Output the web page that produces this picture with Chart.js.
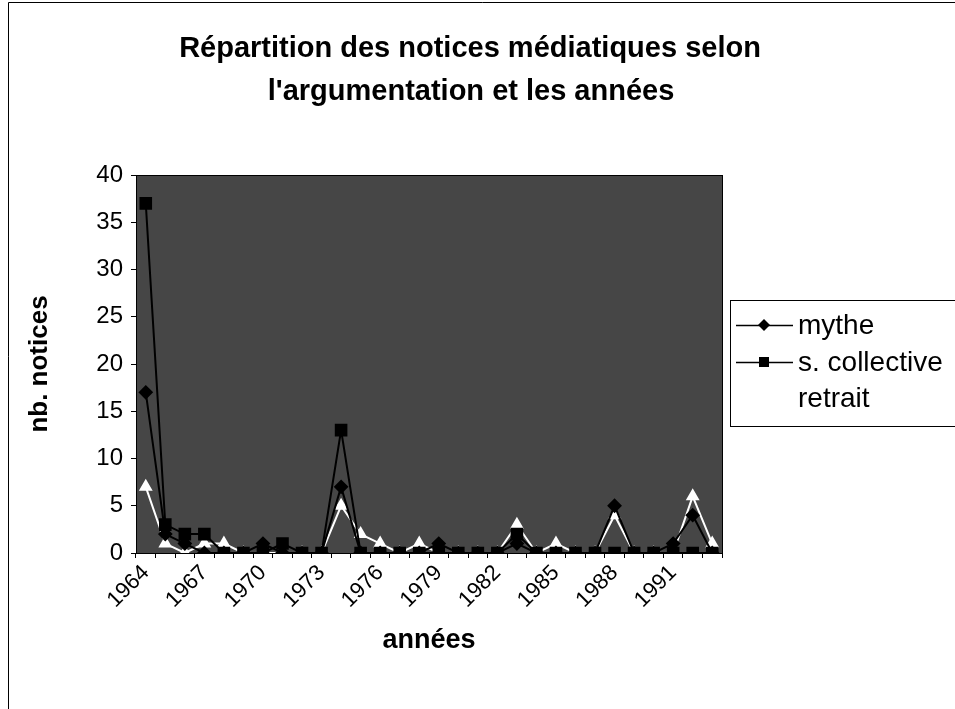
<!DOCTYPE html>
<html>
<head>
<meta charset="utf-8">
<script src="https://cdn.jsdelivr.net/npm/chart.js@4"></script>
<style>
html,body{margin:0;padding:0;background:#fff;}
#wrap{position:relative;width:955px;height:709px;}
</style>
</head>
<body>
<div id="wrap"><canvas id="c" width="955" height="709"></canvas></div>
<script>
const years = ["1964","1965","1966","1967","1968","1969","1970","1971","1972","1973","1974","1975","1976","1977","1978","1979","1980","1981","1982","1983","1984","1985","1986","1987","1988","1989","1990","1991","1992","1993"];
const mythe =        [17,2,1,0,0,0,1,0,0,0,7,0,0,0,0,1,0,0,0,1,0,0,0,0,5,0,0,1,4,0];
const sCollective =  [37,3,2,2,0,0,0,1,0,0,13,0,0,0,0,0,0,0,0,2,0,0,0,0,0,0,0,0,0,0];
const retrait =      [7,1,0,1,1,0,0,0,0,0,5,2,1,0,1,0,0,0,0,3,0,1,0,0,4,0,0,0,6,1];
const titleLines = ["Répartition des notices médiatiques selon", "l'argumentation et les années"];
const yTitle = "nb. notices";
const xTitle = "années";

const FONT = "'Liberation Sans', Arial, sans-serif";

const decor = {
  id: 'decor',
  beforeDraw(chart) {
    const {ctx, chartArea: a} = chart;
    ctx.save();
    ctx.fillStyle = '#fff';
    ctx.fillRect(0, 0, chart.width, chart.height);
    ctx.strokeStyle = '#000';
    ctx.lineWidth = 1;
    ctx.beginPath();
    ctx.moveTo(8.5, 720); ctx.lineTo(8.5, 2.5); ctx.lineTo(960, 2.5);
    ctx.stroke();
    ctx.fillStyle = '#464646';
    ctx.fillRect(a.left, a.top, a.right - a.left, a.bottom - a.top);
    ctx.restore();
  },
  afterDraw(chart) {
    const {ctx, chartArea: a} = chart;
    ctx.save();
    ctx.strokeStyle = '#000';
    ctx.lineWidth = 1;
    ctx.strokeRect(a.left + 0.5, a.top + 0.5, a.right - a.left, a.bottom - a.top);
    ctx.fillStyle = '#000';
    ctx.textAlign = 'center';
    ctx.textBaseline = 'middle';
    ctx.font = "bold 29px " + FONT;
    ctx.fillText(titleLines[0], 470, 49);
    ctx.fillText(titleLines[1], 471, 92);
    const lx = 730, ly = 300, lw = 240, lh = 126;
    ctx.fillStyle = '#fff';
    ctx.fillRect(lx, ly, lw, lh);
    ctx.strokeStyle = '#000';
    ctx.strokeRect(lx + 0.5, ly + 0.5, lw, lh);
    const rows = [325, 362, 398];
    chart.data.datasets.forEach((ds, i) => {
      const y = rows[i];
      ctx.strokeStyle = ds.borderColor;
      ctx.lineWidth = 1.5;
      ctx.beginPath(); ctx.moveTo(736, y + 0.5); ctx.lineTo(793, y + 0.5); ctx.stroke();
      ctx.fillStyle = ds.pointBackgroundColor;
      const mx = 764, r = 5;
      ctx.beginPath();
      if (ds.pointStyle === 'rectRot') {
        ctx.moveTo(mx, y - r - 1); ctx.lineTo(mx + r + 1, y); ctx.lineTo(mx, y + r + 1); ctx.lineTo(mx - r - 1, y); ctx.closePath();
      } else if (ds.pointStyle === 'rect') {
        ctx.rect(mx - r, y - r, 2 * r, 2 * r);
      } else {
        ctx.moveTo(mx, y - r - 1); ctx.lineTo(mx + r + 1, y + r); ctx.lineTo(mx - r - 1, y + r); ctx.closePath();
      }
      ctx.fill();
      ctx.fillStyle = '#000';
      ctx.textAlign = 'left';
      ctx.font = "28px " + FONT;
      ctx.fillText(ds.label, 798, y + 1);
    });
    ctx.restore();
  }
};

new Chart(document.getElementById('c'), {
  type: 'line',
  data: {
    labels: years,
    datasets: [
      { label: 'mythe', data: mythe, borderColor: '#000', backgroundColor: '#000', pointBackgroundColor: '#000', pointBorderColor: '#000', pointStyle: 'rectRot', pointRadius: 6, borderWidth: 2, tension: 0 },
      { label: 's. collective', data: sCollective, borderColor: '#000', backgroundColor: '#000', pointBackgroundColor: '#000', pointBorderColor: '#000', pointStyle: 'rect', pointRadius: 7.5, borderWidth: 2, tension: 0 },
      { label: 'retrait', data: retrait, borderColor: '#fff', backgroundColor: '#fff', pointBackgroundColor: '#fff', pointBorderColor: '#fff', pointStyle: 'triangle', pointRadius: 6, borderWidth: 2, tension: 0 }
    ]
  },
  options: {
    responsive: false,
    animation: false,
    devicePixelRatio: 1,
    layout: { padding: { left: 8, right: 233, top: 175, bottom: 0 } },
    plugins: { legend: { display: false }, title: { display: false }, tooltip: { enabled: false } },
    elements: { line: { clip: false } },
    scales: {
      x: {
        type: 'category',
        offset: true,
        grid: { display: true, drawOnChartArea: false, drawTicks: true, tickLength: 5, color: '#000', offset: true },
        border: { display: true, color: '#000' },
        ticks: {
          autoSkip: false, maxRotation: 45, minRotation: 45, color: '#000',
          font: { family: FONT, size: 22 }, padding: 2,
          callback: function (v, i) { return i % 3 === 0 ? this.getLabelForValue(v) : ''; }
        },
        title: { display: true, text: xTitle, color: '#000', font: { family: FONT, size: 27, weight: 'bold' }, padding: { top: 4, bottom: 52 } },
        afterFit(s) { s.height = 156; }
      },
      y: {
        min: 0, max: 40,
        grid: { display: true, drawOnChartArea: false, drawTicks: true, tickLength: 5, color: '#000' },
        border: { display: true, color: '#000' },
        ticks: { stepSize: 5, color: '#000', font: { family: FONT, size: 24 }, padding: 8 },
        title: { display: true, text: yTitle, color: '#000', font: { family: FONT, size: 26, weight: 'bold' }, padding: { top: 16, bottom: 0 } },
        afterFit(s) { s.width = 128; }
      }
    }
  },
  plugins: [decor]
});
</script>
</body>
</html>
